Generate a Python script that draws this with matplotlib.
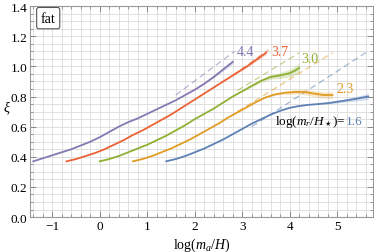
import numpy as np
import matplotlib
matplotlib.use("Agg")
import matplotlib.pyplot as plt
from matplotlib.ticker import MultipleLocator, FormatStrFormatter, FuncFormatter

plt.rcParams['font.family'] = ['Liberation Serif', 'DejaVu Serif']
plt.rcParams['mathtext.fontset'] = 'custom'
plt.rcParams['mathtext.rm'] = 'Liberation Serif'
plt.rcParams['mathtext.it'] = 'Liberation Serif:italic'

# ---- data ----
labels = ["1.6", "2.3", "3.0", "3.7", "4.4"]
colors = ["#5E81B5", "#E19C24", "#8FB032", "#EB6235", "#8778B3"]

x_16 = [1.4, 1.6, 1.8, 2.0, 2.2, 2.4, 2.6, 2.8, 3.0, 3.2, 3.4, 3.6, 3.8, 4.0, 4.2, 4.4, 4.6, 4.8, 5.0, 5.2, 5.4, 5.65]
y_16 = [0.37, 0.385, 0.405, 0.43, 0.455, 0.485, 0.515, 0.55, 0.585, 0.62, 0.65, 0.68, 0.705, 0.725, 0.737, 0.745, 0.75, 0.756, 0.765, 0.775, 0.785, 0.80]
e_16 = [0, 0, 0, 0, 0, 0, 0, 0, 0, 0, 0, 0, 0, 0, 0, 0, 0.002, 0.005, 0.008, 0.011, 0.015, 0.02]

x_23 = [0.7, 0.9, 1.1, 1.3, 1.5, 1.7, 1.9, 2.1, 2.3, 2.5, 2.7, 2.9, 3.1, 3.3, 3.5, 3.7, 3.9, 4.1, 4.3, 4.5, 4.7, 4.9]
y_23 = [0.37, 0.385, 0.405, 0.43, 0.455, 0.485, 0.515, 0.55, 0.585, 0.62, 0.66, 0.695, 0.73, 0.765, 0.795, 0.815, 0.825, 0.83, 0.83, 0.82, 0.81, 0.81]
e_23 = [0, 0, 0, 0, 0, 0, 0, 0, 0, 0, 0, 0, 0, 0, 0.002, 0.006, 0.01, 0.014, 0.017, 0.019, 0.021, 0.022]

x_30 = [0.0, 0.2, 0.4, 0.6, 0.8, 1.0, 1.2, 1.4, 1.6, 1.8, 2.0, 2.2, 2.4, 2.6, 2.8, 3.0, 3.2, 3.4, 3.6, 3.8, 4.0, 4.1, 4.2]
y_30 = [0.37, 0.385, 0.405, 0.43, 0.455, 0.48, 0.51, 0.54, 0.575, 0.61, 0.65, 0.685, 0.72, 0.76, 0.80, 0.835, 0.87, 0.905, 0.93, 0.94, 0.955, 0.97, 0.99]
e_30 = [0, 0, 0, 0, 0, 0, 0, 0, 0, 0, 0, 0, 0, 0, 0, 0.002, 0.006, 0.01, 0.015, 0.02, 0.026, 0.03, 0.033]

x_37 = [-0.7, -0.5, -0.3, -0.1, 0.1, 0.3, 0.5, 0.7, 0.9, 1.1, 1.3, 1.5, 1.7, 1.9, 2.1, 2.3, 2.5, 2.7, 2.9, 3.1, 3.3, 3.5]
y_37 = [0.37, 0.385, 0.405, 0.425, 0.45, 0.48, 0.51, 0.545, 0.575, 0.61, 0.645, 0.68, 0.72, 0.76, 0.80, 0.84, 0.88, 0.92, 0.96, 1.00, 1.045, 1.09]
e_37 = [0, 0, 0, 0, 0, 0, 0, 0, 0, 0, 0, 0, 0, 0, 0, 0, 0, 0.002, 0.004, 0.007, 0.01, 0.013]

x_44 = [-1.4, -1.2, -1.0, -0.8, -0.6, -0.4, -0.2, 0.0, 0.2, 0.4, 0.6, 0.8, 1.0, 1.2, 1.4, 1.6, 1.8, 2.0, 2.2, 2.4, 2.6, 2.8]
y_44 = [0.37, 0.39, 0.41, 0.43, 0.45, 0.475, 0.50, 0.53, 0.565, 0.60, 0.63, 0.655, 0.685, 0.715, 0.745, 0.775, 0.81, 0.845, 0.885, 0.93, 0.98, 1.03]
e_44 = [0, 0, 0, 0, 0, 0, 0, 0, 0, 0, 0, 0, 0, 0, 0, 0, 0, 0.002, 0.004, 0.007, 0.01, 0.012]

# dashed extrapolations (start, end)
dx_16 = [3.2, 5.62]; dy_16 = [0.60, 1.095]
dx_23 = [2.9, 4.9];  dy_23 = [0.70, 1.09]
dx_30 = [2.9, 4.2];  dy_30 = [0.84, 1.09]
dx_37 = [2.8, 3.55]; dy_37 = [0.94, 1.11]
dx_44 = [1.6, 2.84]; dy_44 = [0.81, 1.10]

xs = [x_16, x_23, x_30, x_37, x_44]
ys = [y_16, y_23, y_30, y_37, y_44]
es = [e_16, e_23, e_30, e_37, e_44]
dxs = [dx_16, dx_23, dx_30, dx_37, dx_44]
dys = [dy_16, dy_23, dy_30, dy_37, dy_44]

fig = plt.figure(figsize=(3.74, 2.53), dpi=100)
ax = fig.add_axes([0.080, 0.138, 0.917, 0.834])

for xv, yv, ev, dxv, dyv, c in zip(xs, ys, es, dxs, dys, colors):
    xv = np.array(xv); yv = np.array(yv); ev = np.array(ev)
    ax.plot(dxv, dyv, color=c, lw=0.9, ls=(0, (5, 3)), alpha=0.55, zorder=3)
    ax.fill_between(xv, yv - ev, yv + ev, color=c, alpha=0.25, lw=0, zorder=3)
    ax.plot(xv, yv, color=c, lw=1.3, zorder=4, solid_joinstyle='round')

ax.set_xlim(-1.47, 5.75)
ax.set_ylim(0, 1.4)
ax.xaxis.set_major_locator(MultipleLocator(1))
ax.xaxis.set_minor_locator(MultipleLocator(0.2))
ax.yaxis.set_major_locator(MultipleLocator(0.2))
ax.yaxis.set_minor_locator(MultipleLocator(0.05))
ax.yaxis.set_major_formatter(FormatStrFormatter('%.1f'))
ax.xaxis.set_major_formatter(FuncFormatter(
    lambda v, p: ("\u2212%d" % abs(round(v))) if v < -0.01 else "%d" % round(v)))

ax.grid(which='both', color='#dcdcdc', lw=0.6, zorder=0)
ax.set_axisbelow(True)
ax.tick_params(which='both', direction='in', top=True, right=True,
               color='#888888', labelsize=9.5, pad=2)
ax.tick_params(which='major', length=4, width=0.7)
ax.tick_params(which='minor', length=2, width=0.6)
for s in ax.spines.values():
    s.set_color('#999999')
    s.set_linewidth(0.8)

ax.set_xlabel(r'$\log(m_a/H)$', fontsize=10, labelpad=3)
ax.set_ylabel(r'$\xi$', fontsize=10, rotation=0, va='center', ha='center')
ax.yaxis.set_label_coords(-0.066, 0.52)

ax.text(2.88, 1.10, labels[4], color=colors[4], fontsize=10, va='center')
ax.text(3.60, 1.10, labels[3], color=colors[3], fontsize=10, va='center')
ax.text(4.25, 1.05, labels[2], color=colors[2], fontsize=10, va='center')
ax.text(4.99, 0.85, labels[1], color=colors[1], fontsize=10, va='center')
t2 = ax.text(5.54, 0.64, labels[0], color=colors[0], fontsize=9.5, va='center', ha='right')
fig.canvas.draw()
bb = t2.get_window_extent(renderer=fig.canvas.get_renderer())
xl = ax.transData.inverted().transform((bb.x0, bb.y0))[0]
ax.text(xl, 0.64, r'$\log(m_r/H_\star)$=', color='black', fontsize=9.5, va='center', ha='right')

ax.text(-1.24, 1.32, 'fat', fontsize=10, va='center', ha='left',
        bbox=dict(boxstyle='round,pad=0.3,rounding_size=0.15', fc='white', ec='#555555', lw=0.8))

fig.savefig('out.png', dpi=100)
